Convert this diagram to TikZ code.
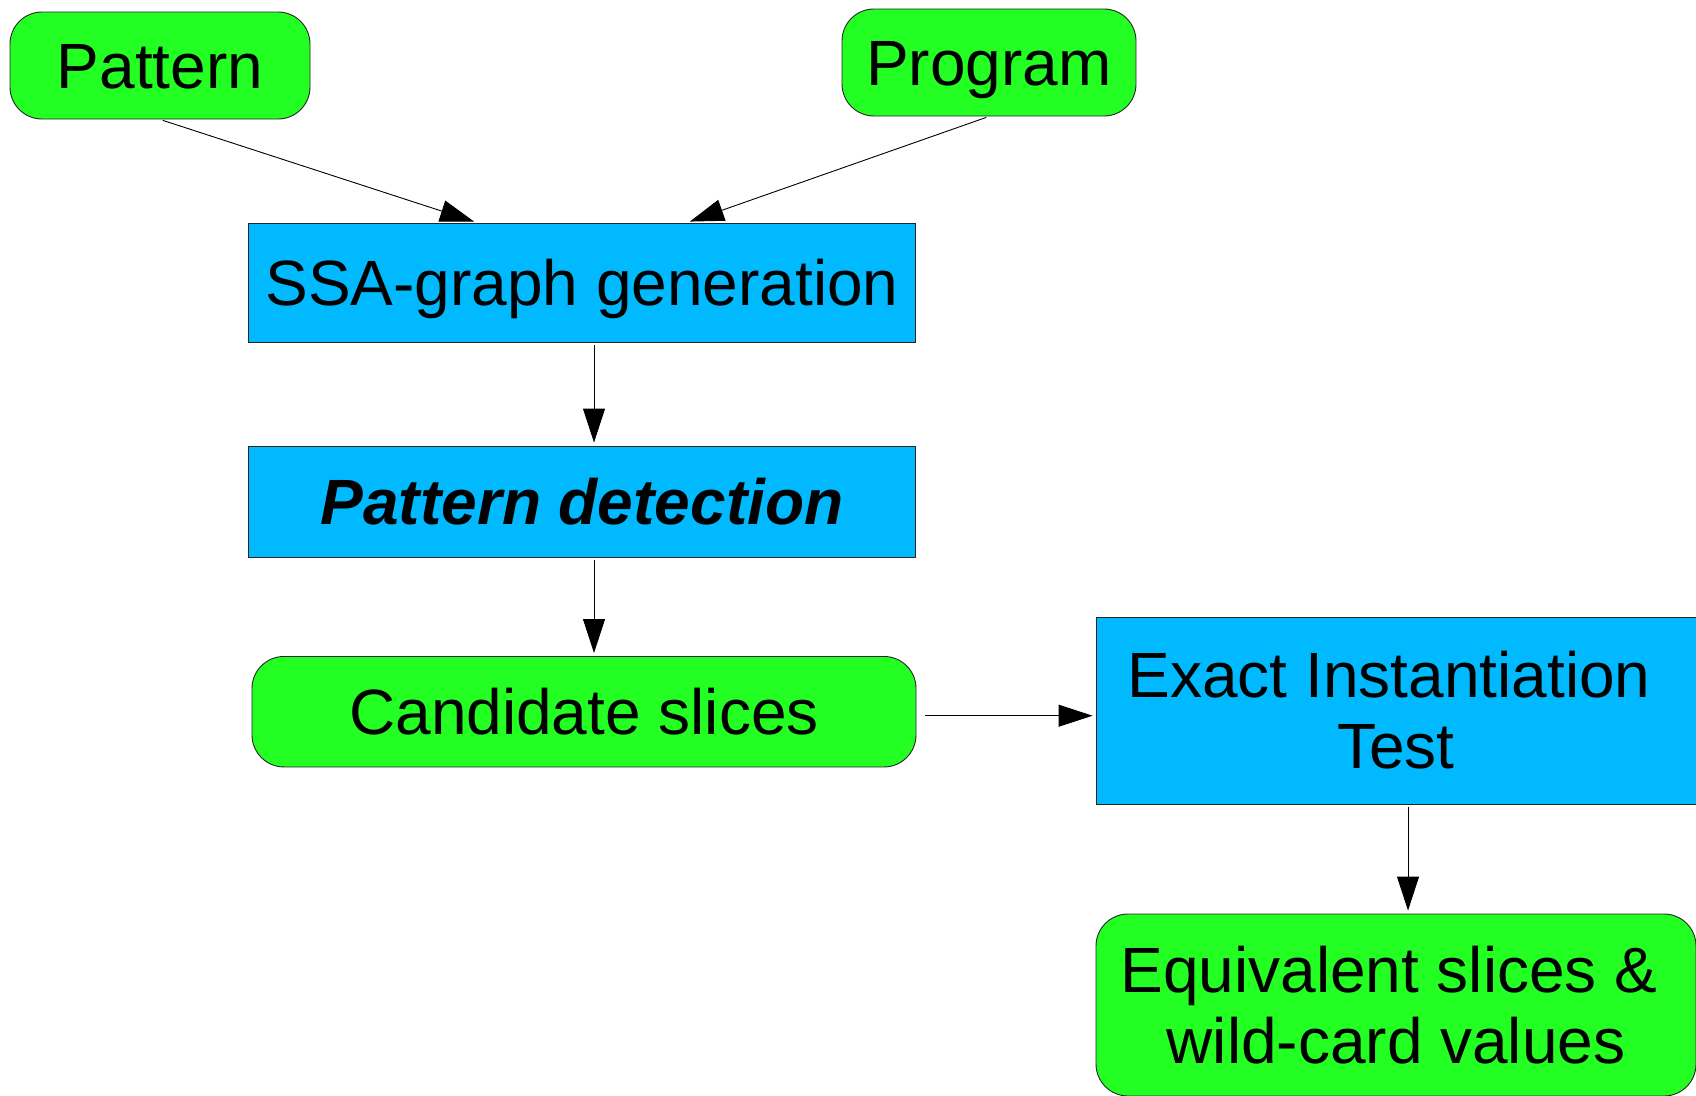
\documentclass[tikz,border=0pt]{standalone}
\usepackage{fontspec}
\setmainfont{Liberation Sans}
\usetikzlibrary{arrows.meta}
\definecolor{boxgreen}{RGB}{35,255,35}
\definecolor{boxblue}{RGB}{0,185,255}
\newcommand{\padr}{\hspace*{14pt}}
\begin{document}
\begin{tikzpicture}[x=1pt,y=-1pt,
  base/.style={draw=black!85, line width=0.9pt, inner sep=0pt, align=center,
    font=\fontsize{64}{71}\selectfont},
  one/.style={text height=58pt, text depth=13pt},
  term/.style={base, fill=boxgreen, rounded corners=32pt},
  proc/.style={base, fill=boxblue},
  arr/.style={draw=black, line width=0.9pt, -{Triangle[length=34pt,width=22pt]},
    shorten <=3pt, shorten >=3pt}]
\useasboundingbox (0,0) rectangle (1696,1095);
\fill[white] (0,0) rectangle (1696,1095);

\node[term, one, minimum width=300pt, minimum height=107pt] (pat) at (160,65.5) {Pattern};
\node[term, one, minimum width=294pt, minimum height=107pt] (prog) at (989,62.5) {Program};
\node[proc, one, minimum width=667pt, minimum height=119pt] (ssa) at (582,282.5) {SSA-graph generation};
\node[proc, one, minimum width=667pt, minimum height=111pt] (pd) at (582,501.5) {\bfseries\itshape Pattern detection};
\node[term, one, minimum width=664pt, minimum height=110.5pt] (cand) at (584,711.7) {Candidate slices};
\node[proc, minimum width=600pt, minimum height=187pt] (exact) at (1396,710.5) {Exact Instantiation\padr\\Test};
\node[term, minimum width=600pt, minimum height=182pt] (equiv) at (1396,1005) {Equivalent slices \&\padr\\wild-card values};

\coordinate (candout) at ([yshift=-4pt]cand.east);
\draw[arr] (pat.south) -- ([xshift=-105pt]ssa.north);
\draw[arr] (prog.south) -- ([xshift=105pt]ssa.north);
\draw[arr] ([xshift=12pt]ssa.south) -- ([xshift=12pt]pd.north);
\draw[arr] ([xshift=12pt]pd.south) -- ([xshift=10pt]cand.north);
\draw[arr, shorten <=9pt] (candout) -- (exact.west |- candout);
\draw[arr] ([xshift=12pt]exact.south) -- ([xshift=12pt]equiv.north);
\end{tikzpicture}
\end{document}
